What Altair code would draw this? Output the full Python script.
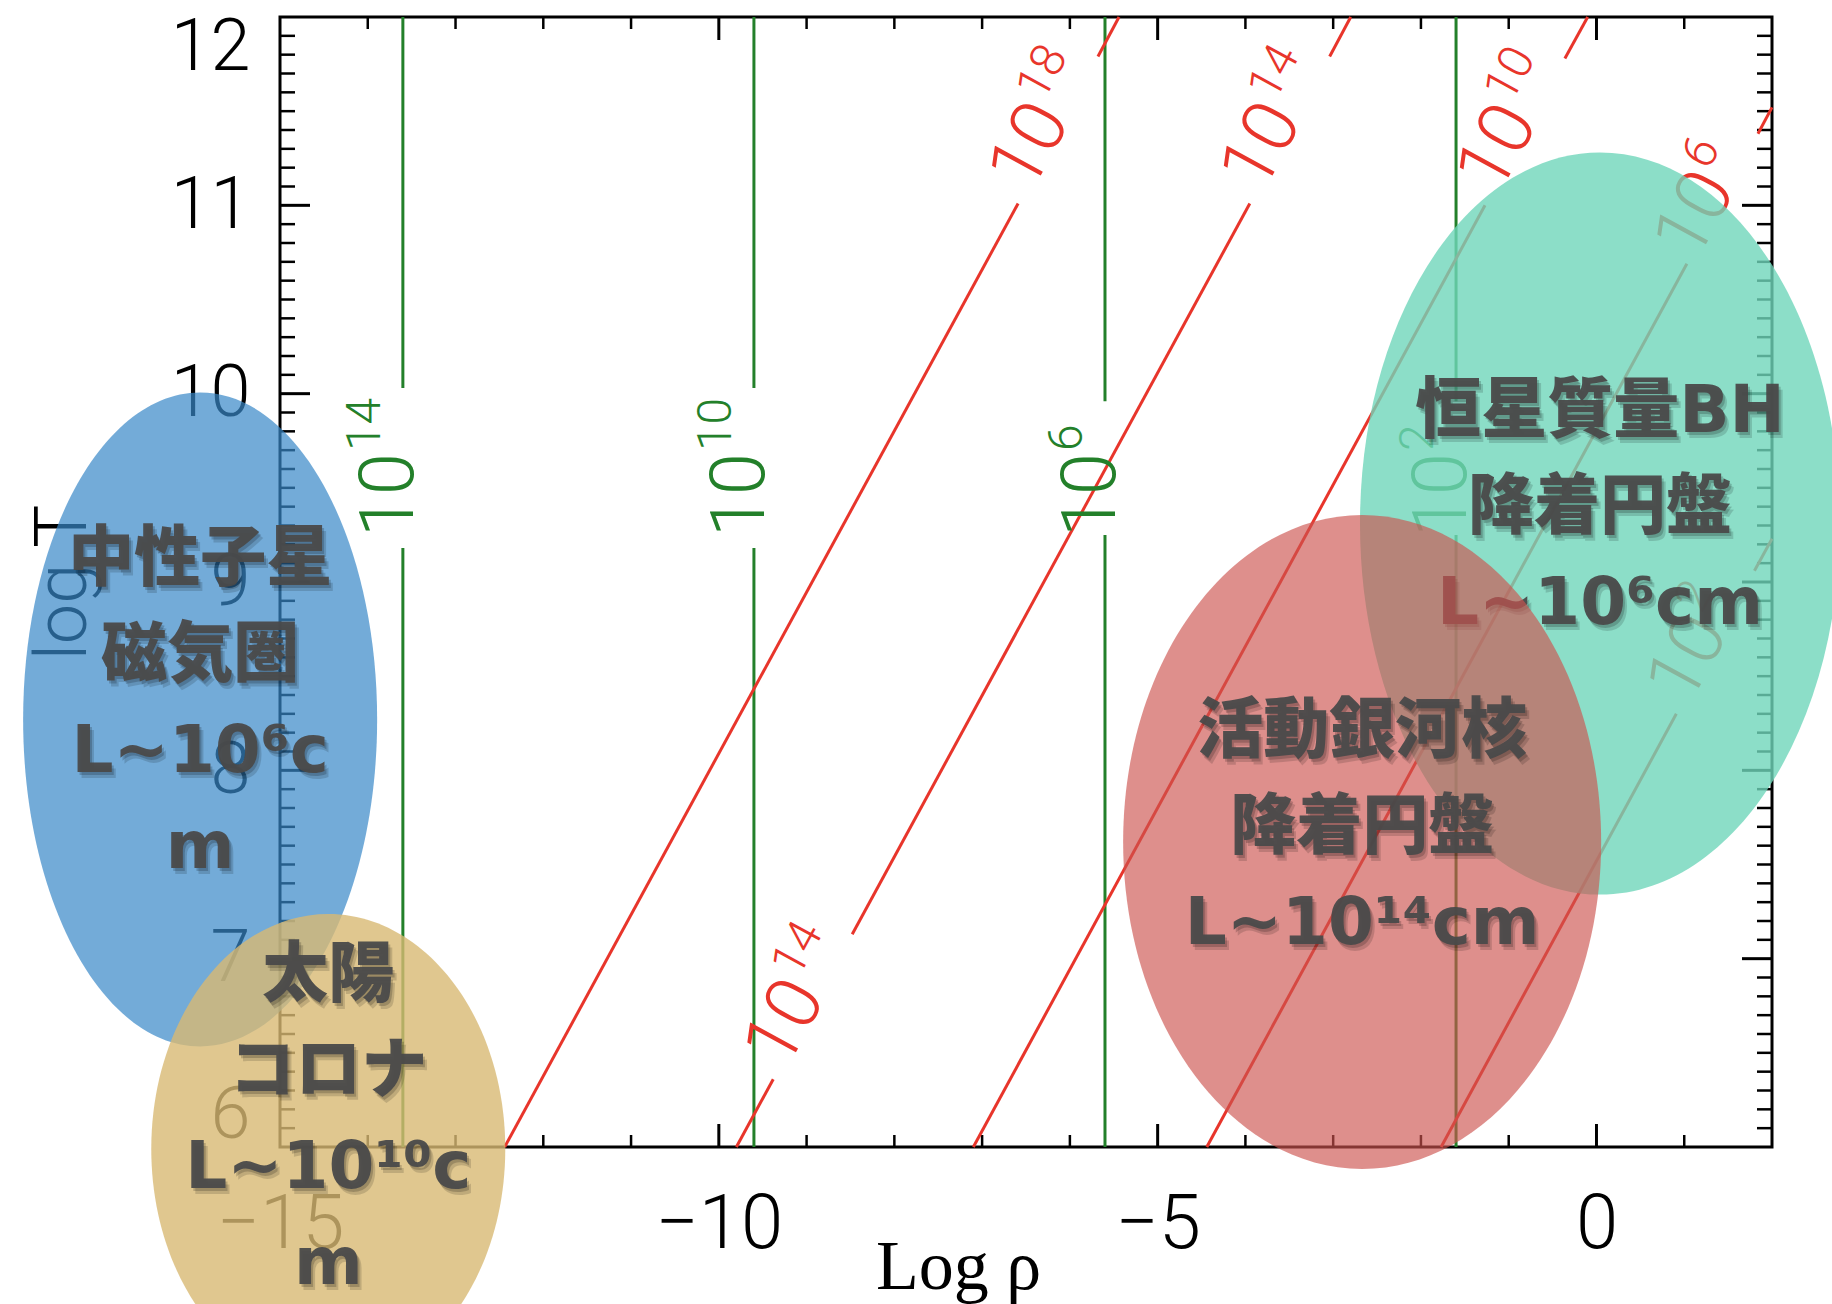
import altair as alt
import pandas as pd

# ---------------- axis ranges and tick values ----------------
X_DOMAIN = [-15, 2]          # log rho
Y_DOMAIN = [6, 12]           # log T
x_major_labels = [-15, -10, -5, 0]
y_major_labels = [6, 7, 8, 9, 10, 11, 12]
x_major_ticks = [-10, -5, 0]
x_minor_ticks = [v for v in range(-14, 2) if v % 5 != 0]
y_major_ticks = [7, 8, 9, 10, 11]
y_minor_ticks = [round(6 + i / 10, 1) for i in range(1, 60) if i % 10 != 0]

# ---------------- vertical (green) contours ----------------
green_x = [-13.6, -9.6, -5.6, -1.6]
green_exp = ["14", "10", "6", "2"]
green_gap_lo = [9.18, 9.18, 9.25, 9.25]
green_gap_hi = [10.03, 10.03, 9.96, 9.96]

# ---------------- diagonal (red) contours: visible segments ----------------
seg_exp = ["18", "18", "14", "14", "14", "10", "10", "6", "6", "2", "2"]
seg_x0 = [-12.44, -5.68, -9.80, -8.48, -3.04, -7.10, -0.36, -4.44, 1.84, -1.77, 1.80]
seg_y0 = [6.00, 11.79, 6.00, 7.13, 11.79, 6.00, 11.78, 6.00, 11.38, 6.00, 9.06]
seg_x1 = [-6.59, -5.44, -9.38, -3.95, -2.80, -1.27, -0.10, 1.03, 2.00, 0.91, 2.00]
seg_y1 = [11.01, 12.00, 6.36, 11.01, 12.00, 11.00, 12.00, 10.69, 11.52, 8.30, 9.23]

# contour labels on the red lines
lab_exp = ["18", "14", "14", "10", "6", "2"]
lab_x = [-6.14, -8.93, -3.50, -0.81, 1.44, 1.36]
lab_y = [11.40, 6.745, 11.40, 11.39, 11.035, 8.68]

# ---------------- highlighted physical regimes ----------------
region_key = ["ns", "sun", "bh", "agn"]
region_x = [-15.91, -14.45, 0.04, -2.67]
region_y = [8.27, 5.99, 9.31, 7.62]
region_text = [
    ["中性子星", "磁気圏", "L~10⁶c", "m"],
    ["太陽", "コロナ", "L~10¹⁰c", "m"],
    ["恒星質量BH", "降着円盤", "L~10⁶cm"],
    ["活動銀河核", "降着円盤", "L~10¹⁴cm"],
]

# ---------------- styling ----------------
GREEN = "#23802a"
RED = "#e8352b"
SANS = "Roboto, Liberation Sans"
THIN = 300
CAPTION_FONT = "DejaVu Sans, Noto Sans CJK JP"
W, H = 1492, 1130
ELLIPSE_STYLE = {           # semi-axes in px, fill, opacity, first caption line shift in px
    "ns":  dict(a=177, b=327, fill="#3888c7", op=0.7, dy=-159),
    "sun": dict(a=177, b=235, fill="#d8b973", op=0.8, dy=-173),
    "bh":  dict(a=240, b=371, fill="#6fd6ba", op=0.8, dy=-112),
    "agn": dict(a=239, b=327, fill="#cc534e", op=0.65, dy=-110),
}
RED_ANGLE = 298.6


def ellipse_path(ratio):
    """Closed ellipse outline in the unit symbol box, width/height = ratio."""
    k = 0.5523
    a = ratio
    return (f"M 0 -1 C {k*a:.4f} -1 {a:.4f} {-k:.4f} {a:.4f} 0 "
            f"C {a:.4f} {k:.4f} {k*a:.4f} 1 0 1 "
            f"C {-k*a:.4f} 1 {-a:.4f} {k:.4f} {-a:.4f} 0 "
            f"C {-a:.4f} {-k:.4f} {-k*a:.4f} -1 0 -1 Z")


xs = alt.Scale(domain=X_DOMAIN, nice=False, zero=False)
ys = alt.Scale(domain=Y_DOMAIN, nice=False, zero=False)

x_axis = alt.Axis(
    values=x_major_labels, ticks=False, domain=False, grid=False,
    labelFont=SANS, labelFontSize=76, labelFontWeight=THIN, labelColor="black",
    labelPadding=40, labelFlush=False, labelOverlap=False,
    title="Log  ρ", titleFont="Liberation Serif", titleFontSize=70,
    titleFontWeight="normal", titleColor="black", titleX=678, titleY=141,
    titleAlign="center", titleBaseline="alphabetic",
)
y_axis = alt.Axis(
    values=y_major_labels, ticks=False, domain=False, grid=False,
    labelFont=SANS, labelFontSize=72, labelFontWeight=THIN, labelColor="black",
    labelPadding=30, labelFlush=True, labelFlushOffset=5, labelOverlap=False,
    title="log T", titleFont=SANS, titleFontSize=72, titleFontWeight=THIN,
    titleColor="black", titleAngle=270, titleX=-217, titleY=565,
    titleAlign="center", titleBaseline="middle",
)


def X(field=None, datum=None):
    if datum is not None:
        return alt.X(datum=datum, scale=xs, axis=x_axis)
    return alt.X(field, type="quantitative", scale=xs, axis=x_axis)


def Y(field=None, datum=None):
    if datum is not None:
        return alt.Y(datum=datum, scale=ys, axis=y_axis)
    return alt.Y(field, type="quantitative", scale=ys, axis=y_axis)


# ---- green vertical contour segments (broken around their labels) ----
g_rows = []
for gx, lo, hi in zip(green_x, green_gap_lo, green_gap_hi):
    g_rows.append({"x": gx, "y0": Y_DOMAIN[0], "y1": lo})
    g_rows.append({"x": gx, "y0": hi, "y1": Y_DOMAIN[1]})
green_df = pd.DataFrame(g_rows)
green_lines = alt.Chart(green_df).mark_rule(color=GREEN, strokeWidth=3).encode(
    x=X("x"), y=Y("y0"), y2="y1:Q",
)

green_lab_df = pd.DataFrame({
    "x": green_x,
    "y": [(lo + hi) / 2 for lo, hi in zip(green_gap_lo, green_gap_hi)],
    "exp": green_exp,
})
green_base = alt.Chart(green_lab_df).mark_text(
    text="10", font=SANS, fontSize=76, fontWeight=THIN, color=GREEN, angle=270,
    align="right", baseline="middle", dx=15, dy=-13,
).encode(x=X("x"), y=Y("y"))
green_sup = alt.Chart(green_lab_df).mark_text(
    font=SANS, fontSize=48, fontWeight=THIN, color=GREEN, angle=270,
    align="left", baseline="middle", dx=17, dy=-37,
).encode(text="exp:N", x=X("x"), y=Y("y"))

# ---- red diagonal contour segments ----
red_df = pd.DataFrame({"exp": seg_exp, "x0": seg_x0, "y0": seg_y0, "x1": seg_x1, "y1": seg_y1})
red_lines = alt.Chart(red_df).mark_rule(color=RED, strokeWidth=3).encode(
    x=X("x0"), y=Y("y0"), x2="x1:Q", y2="y1:Q",
)
red_lab_df = pd.DataFrame({"x": lab_x, "y": lab_y, "exp": lab_exp})
red_base = alt.Chart(red_lab_df).mark_text(
    text="10", font=SANS, fontSize=76, fontWeight=THIN, color=RED, angle=RED_ANGLE,
    align="right", baseline="middle", dx=15, dy=-16,
).encode(x=X("x"), y=Y("y"))
red_sup = alt.Chart(red_lab_df).mark_text(
    font=SANS, fontSize=48, fontWeight=THIN, color=RED, angle=RED_ANGLE,
    align="left", baseline="middle", dx=17, dy=-40,
).encode(text="exp:N", x=X("x"), y=Y("y"))


# ---- inward-pointing frame ticks ----
def y_ticks(values, at, length, width):
    df = pd.DataFrame({"v": values})
    return alt.Chart(df).mark_rule(color="black", strokeWidth=width, x2Offset=length).encode(
        x=X(datum=at), x2=alt.X2(datum=at), y=Y("v"),
    )


def x_ticks(values, at, length, width):
    df = pd.DataFrame({"v": values})
    return alt.Chart(df).mark_rule(color="black", strokeWidth=width, y2Offset=length).encode(
        y=Y(datum=at), y2=alt.Y2(datum=at), x=X("v"),
    )


ticks = [
    y_ticks(y_major_ticks, X_DOMAIN[0], 30, 3),
    y_ticks(y_minor_ticks, X_DOMAIN[0], 15, 2.5),
    y_ticks(y_major_ticks, X_DOMAIN[1], -30, 3),
    y_ticks(y_minor_ticks, X_DOMAIN[1], -15, 2.5),
    x_ticks(x_major_ticks, Y_DOMAIN[0], -23, 3),
    x_ticks(x_minor_ticks, Y_DOMAIN[0], -12, 2.5),
    x_ticks(x_major_ticks, Y_DOMAIN[1], 23, 3),
    x_ticks(x_minor_ticks, Y_DOMAIN[1], 12, 2.5),
]

# ---- regime ellipses with their captions ----
overlays = []
for key, rx, ry, lines in zip(region_key, region_x, region_y, region_text):
    st = ELLIPSE_STYLE[key]
    src = alt.Data(values=[{"x": rx, "y": ry, "lines": lines}])
    overlays.append(
        alt.Chart(src).mark_point(
            filled=True, shape=ellipse_path(st["a"] / st["b"]),
            size=(2 * st["b"]) ** 2, color=st["fill"], opacity=st["op"], strokeWidth=0,
        ).encode(x=X("x"), y=Y("y"))
    )
    for sdx, sdy, sop in [(2, 3, 0.18), (4, 6, 0.14)]:
        overlays.append(
            alt.Chart(src).mark_text(
                font=CAPTION_FONT, fontSize=66, fontWeight=900, color="black", opacity=sop,
                lineHeight=96, align="center", baseline="middle",
                dx=sdx, dy=st["dy"] + sdy,
            ).encode(text="lines:N", x=X("x"), y=Y("y"))
        )
    overlays.append(
        alt.Chart(src).mark_text(
            font=CAPTION_FONT, fontSize=66, fontWeight=900, color="#4a4a4a", opacity=0.95,
            lineHeight=96, align="center", baseline="middle", dy=st["dy"],
        ).encode(text="lines:N", x=X("x"), y=Y("y"))
    )

chart = alt.layer(
    green_lines, *ticks, red_lines, green_base, green_sup, red_base, red_sup, *overlays
).properties(
    width=W, height=H,
    autosize=alt.AutoSizeParams(type="none"),
    padding={"left": 280, "top": 17, "right": 60, "bottom": 157},
    background="white",
).configure_view(stroke="black", strokeWidth=3)

chart.save("out.html", embed_options={"renderer": "svg", "actions": False})
